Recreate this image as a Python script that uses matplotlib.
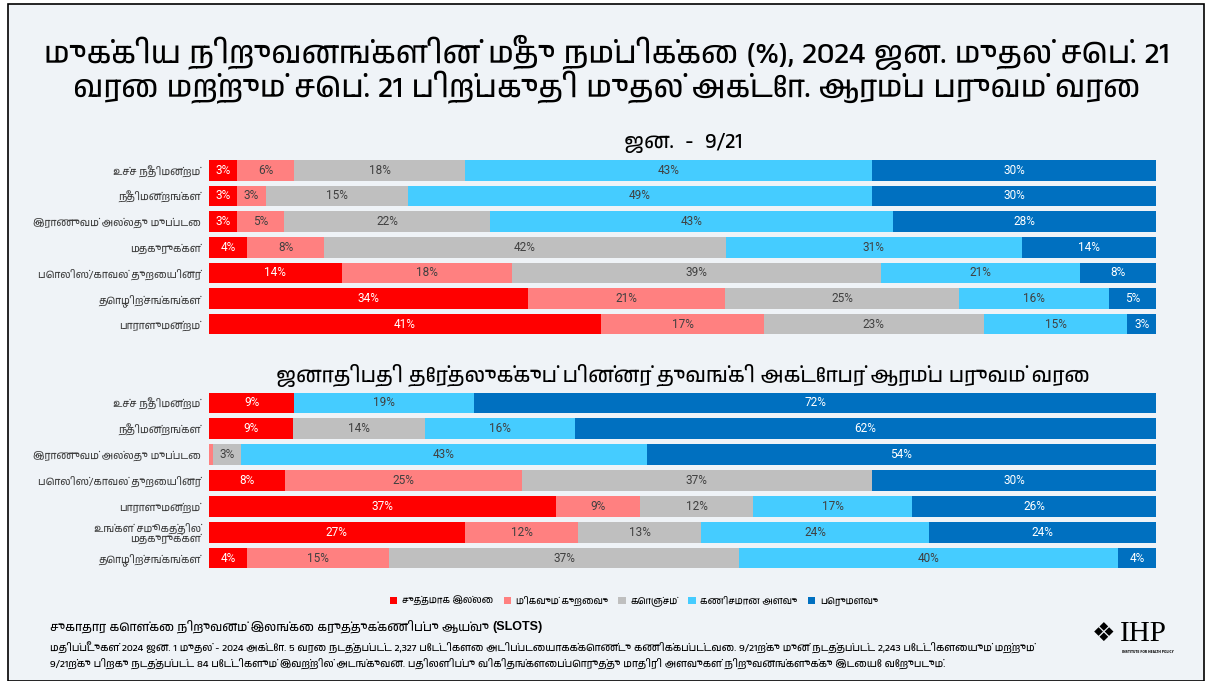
import numpy as np
import matplotlib
matplotlib.use('Agg')
import matplotlib.pyplot as plt
import matplotlib.font_manager as fm
from matplotlib.patches import Patch, Rectangle

# fonts: look for anything that can draw Tamil
names = sorted({f.name for f in fm.fontManager.ttflist})
tamil_fonts = [n for n in names if 'Tamil' in n]
tamil_fonts += [n for n in names if n in ('FreeSans', 'FreeSerif', 'Lohit Tamil', 'Latha', 'Vijaya')]
TA = tamil_fonts + ['DejaVu Sans']
NUM = ['Roboto', 'DejaVu Sans']

title_lines = ['முக்கிய நிறுவனங்களின் மீது நம்பிக்கை (%), 2024 ஜன. முதல் செப். 21',
               'வரை மற்றும் செப். 21 பிற்பகுதி முதல் அக்டோ. ஆரம்ப பருவம் வரை']
top_title = 'ஜன.  -  9/21'
bottom_title = 'ஜனாதிபதி தேர்தலுக்குப் பின்னர் துவங்கி அக்டோபர் ஆரம்ப பருவம் வரை'

levels = ['சுத்தமாக இல்லை', 'மிகவும் குறைவு', 'கொஞ்சம்', 'கணிசமான அளவு', 'பெருமளவு']
colors = ['#FF0000', '#FF8080', '#BFBFBF', '#45CCFF', '#0070C0']
text_colors = ['white', '#404040', '#404040', '#404040', 'white']

top_cats = ['உச்ச நீதிமன்றம்', 'நீதிமன்றங்கள்', 'இராணுவம் அல்லது முப்படை', 'மதகுருக்கள்',
            'பொலிஸ்/காவல் துறையினர்', 'தொழிற்சங்கங்கள்', 'பாராளுமன்றம்']
top_none = [3, 3, 3, 4, 14, 34, 41]
top_little = [6, 3, 5, 8, 18, 21, 17]
top_some = [18, 15, 22, 42, 39, 25, 23]
top_fair = [43, 49, 43, 31, 21, 16, 15]
top_great = [30, 30, 28, 14, 8, 5, 3]

bot_cats = ['உச்ச நீதிமன்றம்', 'நீதிமன்றங்கள்', 'இராணுவம் அல்லது முப்படை',
            'பொலிஸ்/காவல் துறையினர்', 'பாராளுமன்றம்', 'உங்கள் சமூகத்தில்\nமதகுருக்கள்',
            'தொழிற்சங்கங்கள்']
bot_none = [9, 9, 0, 8, 37, 27, 4]
bot_little = [0, 0, 0.4, 25, 9, 12, 15]
bot_some = [0, 14, 3, 37, 12, 13, 37]
bot_fair = [19, 16, 43, 0, 17, 24, 40]
bot_great = [72, 62, 54, 30, 26, 24, 4]

source_line = 'சுகாதார கொள்கை நிறுவனம் இலங்கை கருத்துக்கணிப்பு ஆய்வு '
note_lines = ['மதிப்பீடுகள் 2024 ஜன. 1 முதல் - 2024 அக்டோ. 5 வரை நடத்தப்பட்ட 2,327 பேட்டிகளை அடிப்படையாகக்கொண்டு கணிக்கப்பட்டவை. 9/21ற்கு முன் நடத்தப்பட்ட 2,243 பேட்டிகளையும் மற்றும்',
              '9/21ற்கு பிறகு நடத்தப்பட்ட 84 பேட்டிகளும் இவற்றில் அடங்குவன. பதிலளிப்பு விகிதங்களைப்பொருத்து மாதிரி அளவுகள் நிறுவனங்களுக்கு இடையே வேறுபடும்.']

W, H = 1211, 681
BG = '#EFF3F7'
fig = plt.figure(figsize=(W / 100, H / 100), dpi=100, facecolor='white')

# frame of the slide
fig.patches.append(Rectangle((8 / W, 0), 1196 / W, 1 - 4 / H, transform=fig.transFigure,
                             facecolor=BG, edgecolor='black', linewidth=1.2, zorder=-10))


def px_axes(x0, y0, x1, y1):
    return fig.add_axes([x0 / W, 1 - y1 / H, (x1 - x0) / W, (y1 - y0) / H])


def stacked(ax, cats, series):
    data = np.array(series, dtype=float)
    totals = data.sum(axis=0)
    scaled = data / totals * 100
    y = np.arange(len(cats))
    left = np.zeros(len(cats))
    for i, vals in enumerate(scaled):
        ax.barh(y, vals, left=left, height=0.8, color=colors[i], edgecolor='none')
        for j, v in enumerate(vals):
            if data[i, j] >= 1:
                ax.text(left[j] + v / 2, y[j], '%d%%' % data[i, j], ha='center', va='center',
                        fontsize=8.5, color=text_colors[i], family=NUM)
        left += vals
    ax.set_xlim(0, 100)
    ax.set_ylim(len(cats) - 0.5, -0.5)
    ax.set_yticks(y)
    ax.set_yticklabels(cats, family=TA, fontsize=7.5, color='#404040', linespacing=1.0)
    ax.tick_params(axis='y', length=0, pad=6)
    ax.set_xticks([])
    ax.set_facecolor('none')
    for s in ax.spines.values():
        s.set_visible(False)


ax1 = px_axes(209, 157.5, 1156, 337)
stacked(ax1, top_cats, [top_none, top_little, top_some, top_fair, top_great])
ax2 = px_axes(209, 390, 1156, 571)
stacked(ax2, bot_cats, [bot_none, bot_little, bot_some, bot_fair, bot_great])

# titles
fig.text(607 / W, 1 - 52 / H, title_lines[0], ha='center', va='center', fontsize=22, family=TA)
fig.text(607 / W, 1 - 87 / H, title_lines[1], ha='center', va='center', fontsize=22, family=TA)
fig.text(683 / W, 1 - 143 / H, top_title, ha='center', va='center', fontsize=15, family=TA)
fig.text(683 / W, 1 - 375 / H, bottom_title, ha='center', va='center', fontsize=15, family=TA)

# legend
handles = [Patch(facecolor=c, edgecolor='none') for c in colors]
fig.legend(handles, levels, ncol=5, loc='center', bbox_to_anchor=(634 / W, 1 - 601 / H),
           frameon=False, prop=fm.FontProperties(family=TA, size=6.8), handlelength=0.8,
           handleheight=0.8, handletextpad=0.5, columnspacing=1.1)

# footer
t = fig.text(50 / W, 1 - 627 / H, source_line, ha='left', va='center', fontsize=8.8, family=TA)
fig.canvas.draw()
bb = t.get_window_extent()
fig.text(bb.x1 / W, 1 - 627 / H, '(SLOTS)', ha='left', va='center', fontsize=9,
         fontweight='bold', family=['Liberation Sans', 'DejaVu Sans'])
fig.text(50 / W, 1 - 648 / H, note_lines[0], ha='left', va='center', fontsize=7.4, family=TA)
fig.text(50 / W, 1 - 664 / H, note_lines[1], ha='left', va='center', fontsize=7.4, family=TA)

# logo
fig.text(1104 / W, 1 - 634 / H, '❖', ha='center', va='center', fontsize=19, family='DejaVu Sans')
fig.text(1120 / W, 1 - 634 / H, 'IHP', ha='left', va='center', fontsize=21,
         family=['Liberation Serif', 'DejaVu Serif'])
fig.text(1122 / W, 1 - 652 / H, 'INSTITUTE FOR HEALTH POLICY', ha='left', va='center',
         fontsize=2.2, fontweight='bold', family='DejaVu Sans')

fig.savefig('out.png', dpi=100, facecolor='white')
